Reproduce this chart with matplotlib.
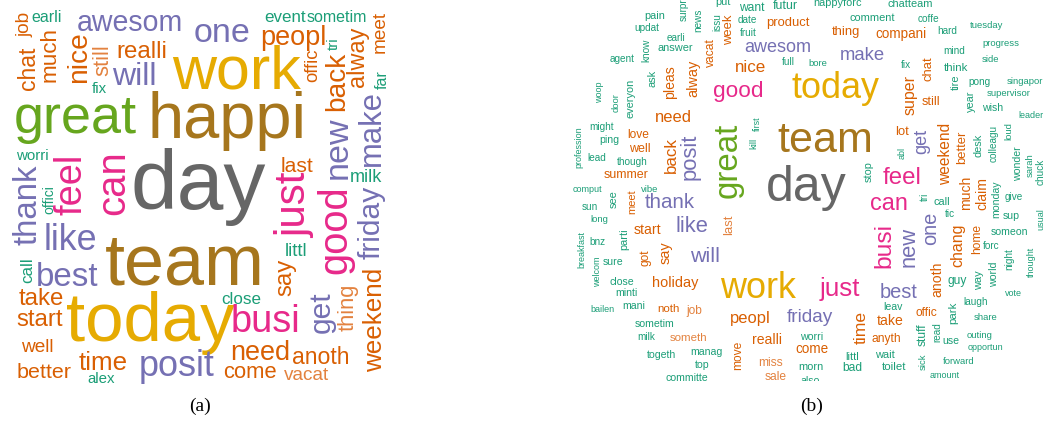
import matplotlib
matplotlib.use("Agg")
import matplotlib.pyplot as plt

# word clouds of stemmed words, (a) and (b)
# weight = relative frequency (drawn as font em in px)

words_a = ["earli", "job", "chat", "much", "awesom", "nice", "still", "realli", "will", "fix",
           "great", "worri", "thank", "offici", "feel", "can", "day", "like", "call", "best",
           "take", "start", "well", "better", "alex", "time", "today", "team", "posit", "happi",
           "work", "one", "peopl", "event", "sometim", "meet", "tri", "offic", "back", "alway",
           "far", "make", "new", "last", "milk", "friday", "just", "good", "littl", "say",
           "get", "thing", "weekend", "close", "busi", "need", "anoth", "come", "vacat"]
weight_a = [16, 19, 23, 22.5, 28.5, 28, 22, 24, 32, 15,
            54, 15, 33, 14, 38, 40, 84, 36, 17, 33,
            24, 24, 19, 21.5, 15, 26, 69, 72, 36, 65,
            61, 34, 27, 17, 16, 19, 15, 18.5, 28, 23.5,
            16, 31, 34, 21, 18, 30, 42, 40, 19, 24,
            30, 22, 26, 17, 38, 27, 23, 22, 19]

words_b = ["pain", "surpr", "news", "put", "issu", "want", "futur", "date", "week", "product",
           "updat", "fruit", "earli", "know", "answer", "vacat", "awesom", "full", "agent", "ask",
           "nice", "pleas", "alway", "good", "woop", "door", "everyon", "need", "might", "profession",
           "love", "ping", "well", "back", "posit", "great", "kill", "first", "lead", "though",
           "summer", "comput", "vibe", "happyforc", "chatteam", "comment", "coffe", "thing", "compani", "hard",
           "tuesday", "progress", "make", "bore", "mind", "side", "fix", "chat", "think", "today",
           "super", "tire", "pong", "singapor", "still", "year", "supervisor", "wish", "leader", "team",
           "lot", "get", "weekend", "better", "desk", "colleagu", "loud", "abl", "stop", "feel",
           "wonder", "sarah", "chuck", "day", "can", "tri", "call", "much", "claim", "monday",
           "give", "usual", "tic", "sup", "one", "new", "busi", "chang", "home", "someon",
           "forc", "night", "thought", "world", "way", "anoth", "guy", "just", "best", "vote",
           "laugh", "leav", "offic", "park", "time", "take", "share", "stuff", "read", "use",
           "outing", "anyth", "worri", "wait", "opportun", "come", "littl", "bad", "toilet", "sick",
           "forward", "amount", "morn", "see", "meet", "sun", "thank", "long", "like", "last",
           "start", "breakfast", "parti", "bnz", "say", "will", "got", "welcom", "sure", "close",
           "holiday", "work", "minti", "bailen", "mani", "noth", "job", "peopl", "friday", "sometim",
           "milk", "someth", "realli", "togeth", "manag", "move", "top", "miss", "committe", "sale",
           "also"]
weight_b = [11, 10, 10, 11, 10, 12, 12.5, 10, 13, 13,
            10, 10, 10, 10, 11, 12, 18, 10, 10, 11,
            17, 14, 14.5, 22.5, 9, 9.5, 11, 16.5, 10, 9,
            12, 10.5, 12.5, 17, 22, 33, 9.5, 9, 10, 10,
            12.5, 9, 9.5, 11, 11, 11, 10, 13, 13.5, 10,
            9.5, 9.5, 18.5, 9.5, 10, 9.5, 10, 13, 11.5, 36,
            16, 11, 10, 9.5, 12.5, 11, 9.5, 10.5, 9, 43,
            13, 18, 15.5, 13, 11, 10, 9.5, 9, 11, 24,
            10.5, 9.5, 10, 50, 23.5, 10, 11, 14, 14, 10.5,
            10, 9, 10, 10.5, 20, 22, 24.5, 16, 12, 10.5,
            10, 10, 9, 10.5, 11, 14, 12, 26, 20, 9,
            10, 10.5, 12, 11.5, 17.5, 14, 9.5, 12, 10, 10.5,
            9.5, 12, 10.5, 11, 9, 13.5, 11, 12, 11.5, 9.5,
            9.5, 9, 11, 11, 11, 10, 20.5, 9.5, 22, 13,
            14, 9, 11, 10, 14.5, 21.5, 12, 9, 10.5, 10.5,
            14.5, 36, 10.5, 9, 10.5, 11.5, 12, 16.5, 19, 10.5,
            10, 11.5, 14, 10.5, 10.5, 12, 10.5, 12, 10.5, 12,
            10.5]

# layout: (x px, y px, rotation, colour key)
layout_a = [(47, 18, 0, "t"), (25, 24, 90, "o"), (28, 68, 90, "o"), (50, 55, 90, "o"),
            (130, 23, 0, "p"), (79, 57, 90, "o"), (103, 60, 90, "l"), (142, 52, 0, "o"),
            (134, 77, 0, "p"), (99, 89, 0, "t"), (75, 119, 0, "g"), (32, 156, 0, "t"),
            (28, 205, 90, "p"), (49, 200, 90, "t"), (72, 184, 90, "k"), (113, 183, 90, "k"),
            (198, 187, 0, "d"), (70, 240, 0, "p"), (28, 270, 90, "t"), (67, 278, 0, "p"),
            (41, 299, 0, "o"), (40, 320, 0, "o"), (37, 348, 0, "o"), (44, 373, 0, "o"),
            (101, 379, 0, "t"), (103, 363, 0, "o"), (150, 323, 0, "y"), (185, 266, 0, "b"),
            (177, 366, 0, "p"), (227, 121, 0, "b"), (236, 73, 0, "y"), (222, 34, 0, "p"),
            (293, 38, 0, "o"), (285, 18, 0, "t"), (337, 18, 0, "t"), (380, 32, 90, "o"),
            (334, 44, 90, "t"), (313, 65, 90, "o"), (337, 81, 90, "o"), (357, 57, 90, "o"),
            (382, 80, 90, "t"), (372, 128, 90, "p"), (338, 148, 90, "p"), (297, 167, 0, "o"),
            (366, 177, 0, "t"), (372, 222, 90, "p"), (295, 205, 90, "k"), (335, 230, 90, "k"),
            (296, 252, 0, "t"), (285, 277, 90, "o"), (322, 312, 90, "p"), (348, 307, 90, "l"),
            (375, 320, 90, "o"), (241, 299, 0, "t"), (265, 322, 0, "k"), (260, 353, 0, "o"),
            (321, 357, 0, "o"), (250, 373, 0, "o"), (307, 375, 0, "l")]

layout_b = [(655, 16, 0, "t"), (684, 10, 90, "t"), (698, 20, 90, "t"), (723, 2, 0, "t"),
            (717, 22, 90, "t"), (752, 8, 0, "t"), (785, 6, 0, "t"), (747, 20, 0, "t"),
            (729, 30, 90, "o"), (788, 23, 0, "o"), (647, 28, 0, "t"), (748, 33, 0, "t"),
            (676, 38, 0, "t"), (646, 50, 90, "t"), (675, 48, 0, "t"), (711, 53, 90, "o"),
            (778, 47, 0, "p"), (788, 62, 0, "t"), (622, 59, 0, "t"), (652, 78, 90, "t"),
            (751, 68, 0, "o"), (670, 82, 90, "o"), (693, 78, 90, "o"), (738, 92, 0, "k"),
            (600, 92, 90, "t"), (616, 103, 90, "t"), (630, 98, 90, "t"), (673, 118, 0, "o"),
            (602, 127, 0, "t"), (579, 147, 90, "t"), (638, 135, 0, "o"), (609, 140, 0, "t"),
            (640, 149, 0, "o"), (671, 155, 90, "o"), (690, 157, 90, "p"), (728, 160, 90, "g"),
            (754, 143, 90, "t"), (757, 124, 90, "t"), (597, 158, 0, "t"), (632, 162, 0, "t"),
            (626, 175, 0, "o"), (587, 190, 0, "t"), (650, 189, 0, "t"), (838, 3, 0, "t"),
            (910, 4, 0, "t"), (872, 18, 0, "t"), (928, 19, 0, "t"), (846, 32, 0, "o"),
            (901, 34, 0, "o"), (947, 31, 0, "t"), (987, 26, 0, "t"), (1001, 44, 0, "t"),
            (862, 55, 0, "p"), (818, 63, 0, "t"), (954, 51, 0, "t"), (990, 59, 0, "t"),
            (906, 65, 0, "t"), (928, 69, 90, "o"), (956, 68, 0, "t"), (836, 88, 0, "y"),
            (910, 95, 90, "o"), (956, 82, 90, "t"), (979, 82, 0, "t"), (1025, 82, 0, "t"),
            (931, 102, 0, "o"), (971, 101, 90, "t"), (1009, 94, 0, "t"), (993, 108, 0, "t"),
            (1031, 116, 0, "t"), (825, 141, 0, "b"), (902, 132, 0, "o"), (922, 141, 90, "p"),
            (946, 154, 90, "o"), (962, 147, 90, "o"), (979, 145, 90, "t"), (994, 143, 90, "t"),
            (1009, 131, 90, "t"), (902, 153, 90, "t"), (869, 172, 90, "t"), (902, 178, 0, "k"),
            (1018, 164, 90, "t"), (1030, 165, 90, "t"), (1041, 172, 90, "t"), (806, 188, 0, "d"),
            (889, 203, 0, "k"), (925, 197, 90, "t"), (942, 202, 0, "t"), (966, 193, 90, "o"),
            (982, 193, 90, "o"), (996, 199, 90, "t"), (1014, 197, 0, "t"), (1041, 219, 90, "t"),
            (950, 214, 0, "t"), (1011, 216, 0, "t"), (931, 228, 90, "p"), (909, 247, 90, "p"),
            (884, 246, 90, "k"), (958, 245, 90, "o"), (977, 239, 90, "o"), (1009, 232, 0, "t"),
            (991, 246, 0, "t"), (1009, 259, 90, "t"), (1031, 262, 90, "t"), (994, 274, 90, "t"),
            (979, 280, 90, "t"), (937, 279, 90, "o"), (957, 281, 0, "t"), (840, 289, 0, "k"),
            (899, 292, 0, "p"), (1013, 294, 0, "t"), (976, 302, 0, "t"), (893, 307, 0, "t"),
            (926, 313, 0, "o"), (953, 313, 90, "t"), (861, 327, 90, "o"), (890, 321, 0, "o"),
            (986, 317, 0, "t"), (923, 335, 90, "t"), (937, 332, 90, "t"), (951, 341, 0, "t"),
            (980, 336, 0, "t"), (886, 339, 0, "o"), (812, 337, 0, "t"), (885, 355, 0, "t"),
            (985, 347, 0, "t"), (812, 349, 0, "o"), (852, 357, 0, "t"), (852, 368, 0, "t"),
            (894, 367, 0, "t"), (923, 362, 90, "t"), (959, 362, 0, "t"), (945, 376, 0, "t"),
            (811, 367, 0, "t"), (614, 199, 90, "t"), (632, 202, 90, "o"), (590, 207, 0, "t"),
            (670, 203, 0, "p"), (599, 220, 0, "t"), (692, 226, 0, "p"), (729, 225, 90, "l"),
            (647, 230, 0, "o"), (582, 249, 90, "t"), (624, 239, 90, "t"), (597, 242, 0, "t"),
            (666, 253, 90, "o"), (705, 256, 0, "p"), (646, 258, 90, "o"), (598, 272, 90, "t"),
            (613, 262, 0, "t"), (622, 282, 0, "t"), (675, 283, 0, "o"), (758, 289, 0, "y"),
            (626, 293, 0, "t"), (602, 309, 0, "t"), (634, 306, 0, "t"), (668, 309, 0, "o"),
            (694, 311, 0, "l"), (750, 319, 0, "o"), (810, 317, 0, "p"), (655, 324, 0, "t"),
            (646, 337, 0, "t"), (689, 338, 0, "l"), (767, 340, 0, "o"), (662, 355, 0, "t"),
            (706, 352, 0, "t"), (738, 355, 90, "o"), (702, 365, 0, "t"), (770, 363, 0, "l"),
            (687, 378, 0, "t"), (776, 377, 0, "l"), (810, 381, 0, "t")]

colours = {"t": "#1b9e77", "o": "#d95f02", "l": "#e3823f", "p": "#7570b3", "k": "#e7298a",
           "g": "#66a61e", "y": "#e6ab02", "b": "#a6761d", "d": "#666666"}

W, H = 1045, 426
fig = plt.figure(figsize=(W / 100, H / 100), dpi=100)


def panel(x0, y0, x1, y1):
    ax = fig.add_axes([x0 / W, 1 - y1 / H, (x1 - x0) / W, (y1 - y0) / H])
    ax.set_xlim(x0, x1)
    ax.set_ylim(y1, y0)
    ax.axis("off")
    return ax


def cloud(ax, words, weights, layout):
    for w, s, (x, y, r, c) in zip(words, weights, layout):
        ax.text(x, y, w, fontsize=s * 0.72, rotation=r, color=colours[c],
                ha="center", va="center", family="Liberation Sans", clip_on=True)


ax_a = panel(0, 0, 410, 395)
cloud(ax_a, words_a, weight_a, layout_a)

ax_b = panel(560, 0, 1045, 381)
cloud(ax_b, words_b, weight_b, layout_b)

fig.text(200 / W, 1 - 406 / H, "(a)", fontsize=14, family="Liberation Serif",
         ha="center", va="center")
fig.text(812 / W, 1 - 406 / H, "(b)", fontsize=14, family="Liberation Serif",
         ha="center", va="center")

fig.savefig("out.png", dpi=100)
